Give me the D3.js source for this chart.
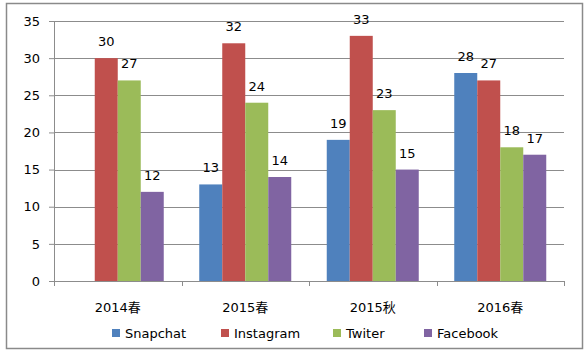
<!DOCTYPE html>
<html>
<head>
<meta charset="utf-8">
<script src="https://cdn.jsdelivr.net/npm/d3@7"></script>
<style>
    body { margin: 0; background: #fff; }
    svg text { font-family: "DejaVu Sans", "Noto Sans CJK SC", sans-serif; }
</style>
</head>
<body>
<div id="chart"></div>
<script>
// chart data
const categories = ["2014春", "2015春", "2015秋", "2016春"];
const seriesNames = ["Snapchat", "Instagram", "Twiter", "Facebook"];
const snapchat = [null, 13, 19, 28];
const instagram = [30, 32, 33, 27];
const twiter = [27, 24, 23, 18];
const facebook = [12, 14, 15, 17];
const yTicks = [0, 5, 10, 15, 20, 25, 30, 35];

const colors = ["#4F81BD", "#C0504D", "#9BBB59", "#8064A2"];
const seriesValues = [snapchat, instagram, twiter, facebook];

let width = 587, height = 354;
let margin = {top: 21, right: 23, bottom: 73, left: 54};

let svg = d3.select("#chart").append("svg")
    .attr("width", width)
    .attr("height", height);

// outer frame
svg.append("rect")
    .attr("x", 6.5).attr("y", 3.5)
    .attr("width", 576).attr("height", 345)
    .attr("fill", "#fff")
    .attr("stroke", "#8a8a8a")
    .attr("stroke-width", 1.5);

let g = svg.append("g")
    .attr("transform", `translate(${margin.left},${margin.top})`);

let w = width - margin.left - margin.right;
let h = height - margin.top - margin.bottom;

let x = d3.scaleBand()
    .domain(categories)
    .range([0, w]);

let y = d3.scaleLinear()
    .domain([0, 35])
    .range([h, 0]);

// gridlines
g.selectAll(".grid")
    .data(yTicks.filter(d => d > 0))
    .enter()
    .append("line")
    .attr("x1", 0).attr("x2", w)
    .attr("y1", d => Math.round(y(d)) + 0.5)
    .attr("y2", d => Math.round(y(d)) + 0.5)
    .attr("stroke", "#8c8c8c")
    .attr("stroke-width", 1);

// y axis
let yAxis = g.append("g")
    .call(d3.axisLeft(y).tickValues(yTicks).tickSize(5).tickPadding(9));
yAxis.selectAll("path, line").attr("stroke", "#8c8c8c");
yAxis.selectAll("text").attr("font-size", 13).attr("fill", "#000");

// bars
let bandW = 92;
let x1 = d3.scaleBand()
    .domain(seriesNames)
    .range([0, bandW]);

let groups = g.selectAll(".cat")
    .data(categories)
    .enter()
    .append("g")
    .attr("transform", d => `translate(${x(d) + (x.bandwidth() - bandW) / 2},0)`);

seriesNames.forEach((s, si) => {
    let val = d => seriesValues[si][categories.indexOf(d)];
    let sub = groups.filter(d => val(d) != null);

    sub.append("rect")
        .attr("x", x1(s))
        .attr("width", x1.bandwidth())
        .attr("y", d => y(val(d)))
        .attr("height", d => h - y(val(d)))
        .attr("fill", colors[si]);

    sub.append("text")
        .attr("x", x1(s) + x1.bandwidth() / 2)
        .attr("y", d => y(val(d)) - 12)
        .attr("text-anchor", "middle")
        .attr("font-size", 13)
        .text(d => val(d));
});

// x axis
let xAxis = g.append("g")
    .attr("transform", `translate(0,${h})`);
xAxis.append("line")
    .attr("x1", 0).attr("x2", w)
    .attr("y1", 0.5).attr("y2", 0.5)
    .attr("stroke", "#8c8c8c");
xAxis.selectAll(".tick")
    .data(d3.range(categories.length + 1))
    .enter()
    .append("line")
    .attr("x1", i => Math.round(i * x.step()) + 0.5)
    .attr("x2", i => Math.round(i * x.step()) + 0.5)
    .attr("y1", 0).attr("y2", 5)
    .attr("stroke", "#8c8c8c");
xAxis.selectAll(".lbl")
    .data(categories)
    .enter()
    .append("text")
    .attr("x", d => x(d) + x.bandwidth() / 2)
    .attr("y", 31)
    .attr("text-anchor", "middle")
    .attr("font-size", 13)
    .text(d => d);

// legend
let legendX = [112, 221, 333, 424];
let legend = svg.selectAll(".legend")
    .data(seriesNames)
    .enter()
    .append("g")
    .attr("transform", (d, i) => `translate(${legendX[i]},329)`);
legend.append("rect")
    .attr("width", 8).attr("height", 8)
    .attr("fill", (d, i) => colors[i]);
legend.append("text")
    .attr("x", 13).attr("y", 9)
    .attr("font-size", 13)
    .text(d => d);
</script>
</body>
</html>
